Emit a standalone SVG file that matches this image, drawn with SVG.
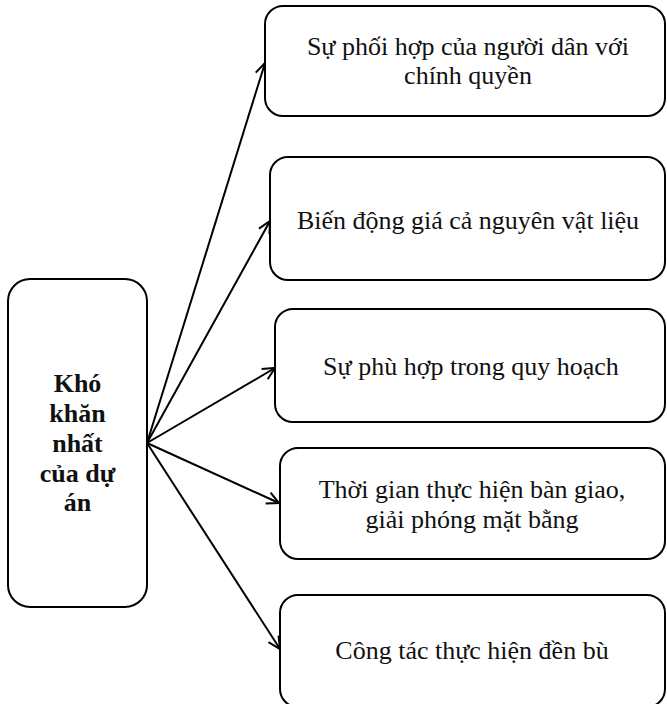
<svg xmlns="http://www.w3.org/2000/svg" width="667" height="704" viewBox="0 0 667 704">
<style>
.box{fill:#fff;stroke:#000;stroke-width:2}
.t{font-family:"Liberation Serif","Times New Roman",serif;font-size:26px;fill:#111;text-anchor:middle}
.b{font-weight:bold;font-size:26px}
.c{stroke:#000;stroke-width:2;fill:none;marker-end:url(#ah)}
</style>
<defs>
<marker id="ah" viewBox="0 0 14 14" refX="13" refY="7" markerWidth="14" markerHeight="14" markerUnits="userSpaceOnUse" orient="auto">
<path d="M1,1 L13,7 L1,13" fill="none" stroke="#000" stroke-width="2"/>
</marker>
</defs>
<rect width="667" height="704" fill="#fff"/>
<g id="connectors">
<line class="c" x1="147" y1="443" x2="265" y2="63"/>
<line class="c" x1="147" y1="443" x2="270" y2="221"/>
<line class="c" x1="147" y1="443" x2="275" y2="368"/>
<line class="c" x1="147" y1="443" x2="279" y2="503"/>
<line class="c" x1="147" y1="443" x2="280" y2="649"/>
</g>
<g id="root">
<rect class="box" x="8" y="279" width="139" height="328" rx="22"/>
<text class="t b" x="77.5" y="392">Khó</text>
<text class="t b" x="77.5" y="422">khăn</text>
<text class="t b" x="77.5" y="452">nhất</text>
<text class="t b" x="77.5" y="482">của dự</text>
<text class="t b" x="77.5" y="511">án</text>
</g>
<g id="n1">
<rect class="box" x="265" y="6" width="400" height="110" rx="18"/>
<text class="t" x="468" y="55">Sự phối hợp của người dân với</text>
<text class="t" x="468" y="84">chính quyền</text>
</g>
<g id="n2">
<rect class="box" x="270" y="157" width="395" height="123" rx="18"/>
<text class="t" x="468" y="229">Biến động giá cả nguyên vật liệu</text>
</g>
<g id="n3">
<rect class="box" x="275" y="309" width="390" height="113" rx="18"/>
<text class="t" x="471" y="375">Sự phù hợp trong quy hoạch</text>
</g>
<g id="n4">
<rect class="box" x="280" y="448" width="385" height="111" rx="18"/>
<text class="t" x="472" y="498">Thời gian thực hiện bàn giao,</text>
<text class="t" x="472" y="528">giải phóng mặt bằng</text>
</g>
<g id="n5">
<rect class="box" x="280" y="595" width="385" height="112" rx="18"/>
<text class="t" x="472" y="659">Công tác thực hiện đền bù</text>
</g>
</svg>
